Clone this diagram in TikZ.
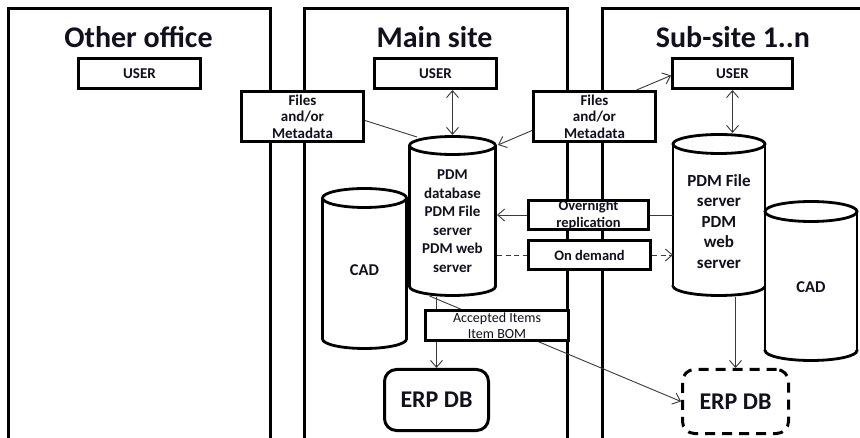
\documentclass[tikz,border=0pt]{standalone}
\usepackage{fontspec}
\setmainfont{Carlito}
\usetikzlibrary{arrows.meta,calc}
\definecolor{txt}{HTML}{10101E}
\definecolor{connc}{HTML}{3A3A3A}
\tikzset{
  frame/.style={line width=3pt, draw=black},
  box/.style={draw=black, line width=3pt, fill=white, inner sep=0pt, align=center, text=txt,
    font=\bfseries\fontsize{15}{16.5}\selectfont},
  cylline/.style={line width=2.8pt, draw=black},
  cylbox/.style={draw=none, inner sep=0pt, outer sep=0pt},
  cyltext/.style={align=center, text=txt, inner sep=0pt},
  titletext/.style={font=\bfseries\fontsize{30}{36}\selectfont, text=txt, anchor=base, inner sep=0pt},
  conn/.style={draw=connc, line width=0.9pt},
  arr/.style={conn, -{Straight Barb[length=7pt,width=12pt]}},
  darr/.style={conn, {Straight Barb[length=7pt,width=12pt]}-{Straight Barb[length=7pt,width=12pt]}},
  dashedconn/.style={dash pattern=on 5pt off 3.5pt}
}
% cylinder: cx, rx, ytop, ybot, ry
\newcommand{\mycyl}[5]{%
  \draw[cylline, fill=white] (#1,{#4-#5}) ellipse [x radius=#2pt, y radius=#5pt];
  \fill[white] ({#1-#2},{#3+#5}) rectangle ({#1+#2},{#4-#5});
  \draw[cylline] ({#1-#2},{#3+#5}) -- ({#1-#2},{#4-#5});
  \draw[cylline] ({#1+#2},{#3+#5}) -- ({#1+#2},{#4-#5});
  \draw[cylline, fill=white] (#1,{#3+#5}) ellipse [x radius=#2pt, y radius=#5pt];
}
\begin{document}
\begin{tikzpicture}[x=1pt,y=-1pt]
\useasboundingbox[fill=white] (0,0) rectangle (860,438);

% site frames
\draw[frame] (8,442) -- (8,9) -- (270,9) -- (270,442);
\draw[frame] (304,442) -- (304,9) -- (567,9) -- (567,442);
\draw[frame] (602,442) -- (602,9) -- (864,9);

% titles
\node[titletext] (t1) at (138.5,48) {Other office};
\node[titletext] (t2) at (434.5,48) {Main site};
\node[titletext] (t3) at (733,48) {Sub-site 1..n};

% users
\node[box, minimum width=122pt, minimum height=30pt] (ouser) at (139.5,73.5) {USER};
\node[box, minimum width=122pt, minimum height=30pt] (muser) at (435.5,73.5) {USER};
\node[box, minimum width=120pt, minimum height=30pt] (suser) at (732.5,73.5) {USER};

% files boxes
\node[box, minimum width=122pt, minimum height=50pt] (lfiles) at (302.5,116.5) {Files\\and/or\\Metadata};
\node[box, minimum width=122pt, minimum height=50pt] (rfiles) at (594.5,116.5) {Files\\and/or\\Metadata};

% cylinders
\mycyl{364.5}{42}{188.5}{348.5}{9.5}
\mycyl{452.5}{43}{136.5}{295.5}{9}
\mycyl{719}{46}{134.5}{295.5}{9.5}
\mycyl{811}{46}{201.5}{360.5}{10}

\node[cylbox, minimum width=85pt, minimum height=163pt] (mcad) at (364.5,268.5) {};
\node[cylbox, minimum width=89pt, minimum height=162pt] (mpdm) at (452.5,216) {};
\node[cylbox, minimum width=92pt, minimum height=164pt] (spdm) at (719,215) {};
\node[cylbox, minimum width=92pt, minimum height=162pt] (scad) at (811,281) {};

\node[cyltext, font=\bfseries\fontsize{15}{18.5}\selectfont] (mpdmtxt) at (452.5,221)
  {PDM\\database\\PDM File\\server\\PDM web\\server};
\node[cyltext, font=\bfseries\fontsize{17}{20.5}\selectfont] (spdmtxt) at (719,221.5)
  {PDM File\\server\\PDM\\web\\server};
\node[cyltext, font=\bfseries\fontsize{16.5}{20}\selectfont] (mcadtxt) at (364.5,270) {CAD};
\node[cyltext, font=\bfseries\fontsize{16.5}{20}\selectfont] (scadtxt) at (811,287) {CAD};

% replication boxes
\node[box, font=\bfseries\fontsize{14.5}{17}\selectfont, minimum width=120pt, minimum height=29pt] (onight) at (588.5,215) {Overnight\\replication};
\node[box, font=\bfseries\fontsize{14.5}{17}\selectfont, minimum width=122pt, minimum height=29pt] (ond) at (589.5,255) {On demand};

% ERP boxes
\node[box, rounded corners=12pt, font=\bfseries\fontsize{24}{28}\selectfont, minimum width=104pt, minimum height=61pt] (merp) at (436.5,400) {ERP DB};
\node[box, dash pattern=on 10pt off 7pt, rounded corners=12pt, font=\bfseries\fontsize{24}{28}\selectfont, minimum width=106pt, minimum height=64pt] (serp) at (735.5,401.5) {ERP DB};

% connectors behind accepted box
\draw[arr] (merp.north |- mpdm.south) -- (merp.north);
\draw[arr] ($(mpdm.south)+(-23,-1)$) -- (serp.west);

% accepted box
\node[box, font=\fontsize{14}{16}\selectfont, minimum width=143pt, minimum height=30pt] (acc) at (497,325.5) {Accepted Items\\Item BOM};

% other connectors
\draw[darr] (muser.south -| mpdm.north) -- (mpdm.north);
\draw[darr] (suser.south) -- (suser.south |- spdm.north);
\draw[conn] ([yshift=-4pt]lfiles.east) -- ($(mpdm.north west)+(9,2)$);
\draw[arr] ([yshift=-14pt]rfiles.west) -- ($(mpdm.north east)+(1,10)$);
\draw[arr] ([xshift=42pt]rfiles.north) -- ([yshift=-2pt]suser.west);
\draw[conn] (spdm.west |- onight.east) -- (onight.east);
\draw[arr] (onight.west) -- (mpdm.east |- onight.west);
\draw[conn, dashedconn] (mpdm.east |- ond.west) -- (ond.west);
\draw[arr, dashedconn] (ond.east) -- (spdm.west |- ond.east);
\draw[arr] (serp.north |- spdm.south) -- (serp.north);
\end{tikzpicture}
\end{document}
